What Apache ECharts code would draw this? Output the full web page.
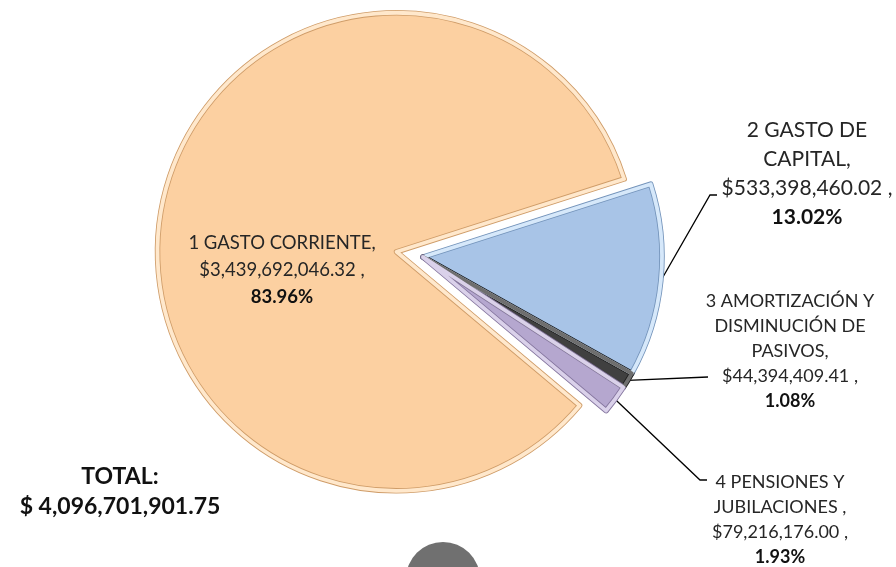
<!DOCTYPE html>
<html>
<head>
<meta charset="utf-8">
<script src="https://cdn.jsdelivr.net/npm/echarts@6/dist/echarts.min.js"></script>
<style>
  html, body { margin: 0; padding: 0; background: #fff; }
  #chart { width: 896px; height: 567px; }
</style>
</head>
<body>
<div id="chart"></div>
<script>
// datos del gráfico
var categorias = ['1 GASTO CORRIENTE', '2 GASTO DE CAPITAL', '3 AMORTIZACIÓN Y DISMINUCIÓN DE PASIVOS', '4 PENSIONES Y JUBILACIONES'];
var etiquetas = ['1 GASTO CORRIENTE,', '2 GASTO DE\nCAPITAL,', '3 AMORTIZACIÓN Y\nDISMINUCIÓN DE\nPASIVOS,', '4 PENSIONES Y\nJUBILACIONES ,'];
var montos = [3439692046.32, 533398460.02, 44394409.41, 79216176.00];
var totalTexto = ['TOTAL:', '$ 4,096,701,901.75'];

// estilos de las rebanadas (relleno, linea oscura, brillo del bisel)
var colores = ['#FCD0A1', '#A8C4E7', '#404040', '#B5A7CF'];
var lineas = ['#CF9C68', '#7393BA', '#1E1E1E', '#85769F'];
var brillos = ['#FFE8CC', '#D6E8FA', '#6E6E6E', '#DAD1EA'];

// centro de cada etiqueta y final de su línea guía
var posEtiq = [
    {x: 282, y: 270, size: 18.5, lh: 27},
    {x: 807, y: 174, size: 21, lh: 29, line: [[710, 195], [717, 195]]},
    {x: 790, y: 351, size: 18, lh: 25, line: [[708, 377], [708, 377]]},
    {x: 780, y: 520, size: 18, lh: 25, line: [[700, 480], [707, 480]]}
];

var suma = montos.reduce(function (a, b) { return a + b; }, 0);

function moneda(v) {
    return '$' + v.toLocaleString('en-US', {minimumFractionDigits: 2, maximumFractionDigits: 2});
}

// arma los datos de cada capa del pastel
function piezas(tipo) {
    return categorias.map(function (nombre, i) {
        var item = {name: nombre, value: montos[i]};
        if (tipo === 'relleno') {
            item.selected = i === 0;
            item.itemStyle = {color: colores[i], borderColor: lineas[i], borderWidth: 5.5};
        } else if (tipo === 'bisel') {
            item.selected = i === 0;
            item.itemStyle = {color: 'rgba(0,0,0,0)', borderColor: brillos[i], borderWidth: 3.8};
        } else {
            item.itemStyle = {color: 'rgba(0,0,0,0)', borderWidth: 0};
            item.label = {
                fontSize: posEtiq[i].size,
                lineHeight: posEtiq[i].lh,
                rich: {
                    b: {fontWeight: 'bold', fontSize: posEtiq[i].size, lineHeight: posEtiq[i].lh, color: '#111', fontFamily: 'Lato'}
                }
            };
            item.labelLine = {show: i > 0};
        }
        return item;
    });
}

var base = {
    type: 'pie',
    center: [423, 257],
    radius: 239,
    startAngle: 320,
    clockwise: true,
    avoidLabelOverlap: false,
    emphasis: {disabled: true}
};

var chart = echarts.init(document.getElementById('chart'));
var option = {
    animation: false,
    title: {
        text: totalTexto.join('\n'),
        left: 115,
        top: 457,
        textAlign: 'center',
        textStyle: {fontFamily: 'Lato', fontWeight: 'bold', fontSize: 23, lineHeight: 30, color: '#111'}
    },
    graphic: [{
        type: 'circle',
        shape: {cx: 443, cy: 579, r: 37},
        style: {fill: '#707070'},
        silent: true
    }],
    series: [
        Object.assign({}, base, {
            selectedMode: 'multiple',
            selectedOffset: 27,
            label: {show: false},
            labelLine: {show: false},
            data: piezas('relleno')
        }),
        Object.assign({}, base, {
            silent: true,
            selectedMode: 'multiple',
            selectedOffset: 27,
            label: {show: false},
            labelLine: {show: false},
            data: piezas('bisel')
        }),
        Object.assign({}, base, {
            silent: true,
            selectedMode: false,
            label: {
                show: true,
                position: 'outside',
                fontFamily: 'Lato',
                color: '#262626',
                formatter: function (p) {
                    var pct = (p.value / suma * 100).toFixed(2);
                    return etiquetas[p.dataIndex] + '\n' + moneda(p.value) + ' ,\n{b|' + pct + '%}';
                }
            },
            labelLine: {
                show: true,
                length: 10,
                length2: 10,
                lineStyle: {color: '#000', width: 1.3}
            },
            labelLayout: function (p) {
                var s = posEtiq[p.dataIndex];
                var r = {x: s.x, y: s.y, align: 'center', verticalAlign: 'middle'};
                if (s.line && p.labelLinePoints) {
                    r.labelLinePoints = [p.labelLinePoints[0]].concat(s.line);
                }
                return r;
            },
            data: piezas('etiquetas')
        })
    ]
};
chart.setOption(option);
</script>
</body>
</html>
